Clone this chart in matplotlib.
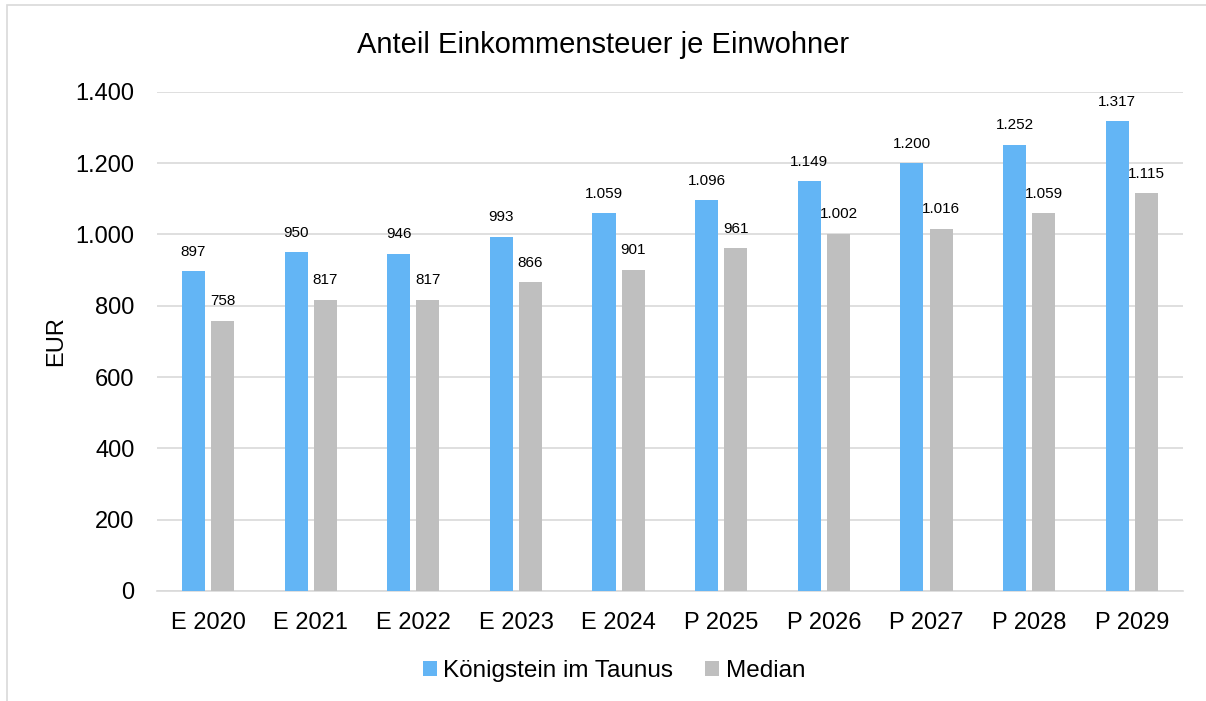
import matplotlib.pyplot as plt
import matplotlib.patches as mpatches
import numpy as np

plt.rcParams['font.family'] = ['Liberation Sans', 'DejaVu Sans']

categories = ["E 2020", "E 2021", "E 2022", "E 2023", "E 2024",
              "P 2025", "P 2026", "P 2027", "P 2028", "P 2029"]
koenigstein = [897, 950, 946, 993, 1059, 1096, 1149, 1200, 1252, 1317]
median = [758, 817, 817, 866, 901, 961, 1002, 1016, 1059, 1115]

blue = "#63B5F5"
gray = "#BFBFBF"


def fmt(v):
    # German thousands separator
    return f"{v:,}".replace(",", ".")


fig = plt.figure(figsize=(12.06, 7.01), dpi=100)
ax = fig.add_axes([0.130, 0.157, 0.851, 0.712])

# Outer chart frame (cut off on the right and bottom)
fig.patches.append(mpatches.Rectangle((7 / 1206, -0.1), 1.2, 1 - 5 / 701 + 0.1,
                                      transform=fig.transFigure, fill=False,
                                      edgecolor="#D9D9D9", linewidth=1.2))

x = np.arange(len(categories))
w = 0.225
off = 0.142
b1 = ax.bar(x - off, koenigstein, w, color=blue, label="Königstein im Taunus", zorder=3)
b2 = ax.bar(x + off, median, w, color=gray, label="Median", zorder=3)

for bars, vals in ((b1, koenigstein), (b2, median)):
    for r, v in zip(bars, vals):
        ax.annotate(fmt(v), (r.get_x() + r.get_width() / 2, v),
                    xytext=(0, 9), textcoords="offset points",
                    ha="center", va="bottom", fontsize=11, color="#000000")

ax.set_xlim(-0.5, len(categories) - 0.5)
ax.set_ylim(0, 1400)
ax.set_yticks(range(0, 1401, 200))
ax.set_yticklabels([fmt(v) for v in range(0, 1401, 200)])
ax.set_xticks(x)
ax.set_xticklabels(categories)
ax.tick_params(axis="both", length=0, labelsize=17)
ax.tick_params(axis="y", pad=16)
ax.tick_params(axis="x", pad=15)
ax.grid(axis="y", color="#D9D9D9", linewidth=1.2, zorder=0)
for s in ("top", "right", "left"):
    ax.spines[s].set_visible(False)
ax.spines["bottom"].set_color("#D9D9D9")
ax.spines["bottom"].set_linewidth(1.2)

ax.set_ylabel("EUR", fontsize=17, labelpad=6)
fig.text(0.5, 1 - 45 / 701, "Anteil Einkommensteuer je Einwohner",
         ha="center", va="center", fontsize=21)

fig.legend(handles=[b1, b2], loc="center", bbox_to_anchor=(0.509, 1 - 671 / 701),
           ncol=2, frameon=False, fontsize=17.5, handlelength=0.6,
           handleheight=0.6, handletextpad=0.25, columnspacing=1.3)

fig.savefig("out.png", dpi=100)
